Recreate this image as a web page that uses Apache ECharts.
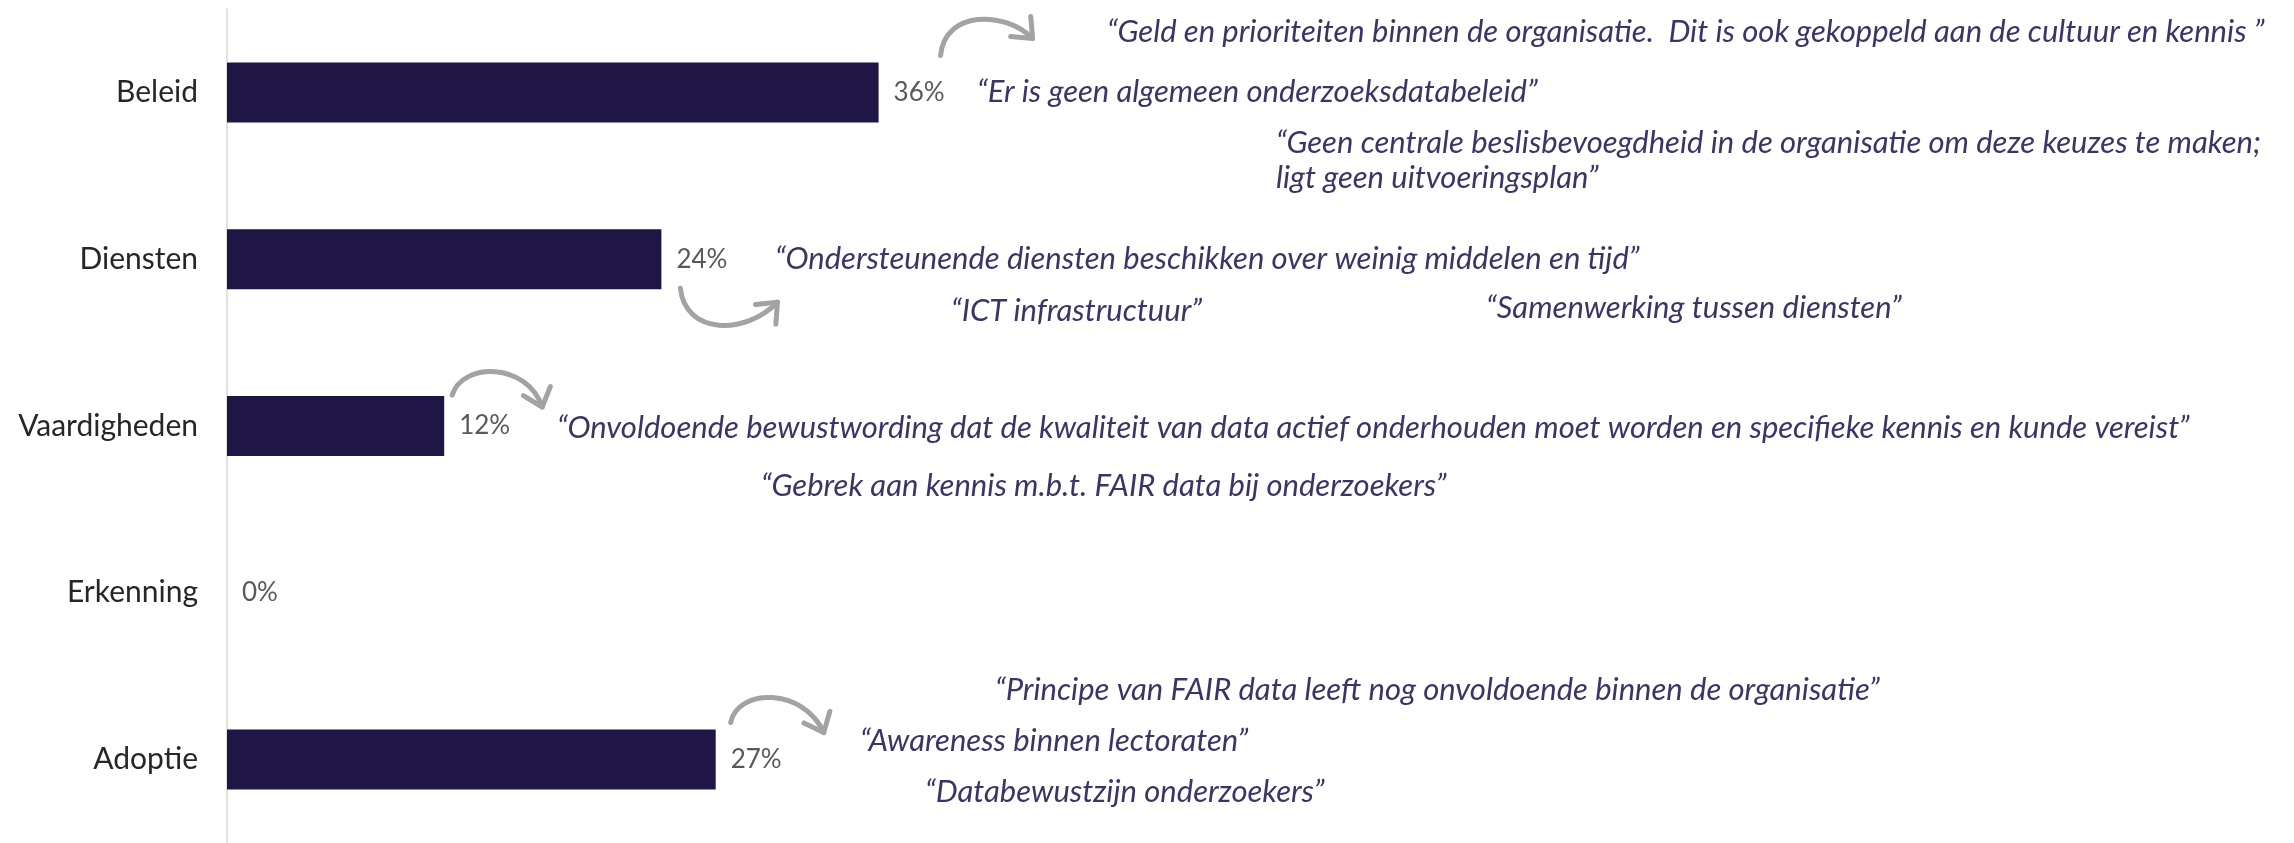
<!DOCTYPE html>
<html>
<head>
<meta charset="utf-8">
<script src="https://cdn.jsdelivr.net/npm/echarts@6/dist/echarts.min.js"></script>
<style>
  html, body { margin: 0; padding: 0; background: #fff; }
  #chart { width: 2294px; height: 843px; }
</style>
</head>
<body>
<div id="chart"></div>
<script>
const categories = ["Beleid", "Diensten", "Vaardigheden", "Erkenning", "Adoptie"];
const values = [36, 24, 12, 0, 27];
const quotes = [
  [
    "“Geld en prioriteiten binnen de organisatie.  Dit is ook gekoppeld aan de cultuur en kennis ”",
    "“Er is geen algemeen onderzoeksdatabeleid”",
    "“Geen centrale beslisbevoegdheid in de organisatie om deze keuzes te maken;\nligt geen uitvoeringsplan”",
  ],
  [
    "“Ondersteunende diensten beschikken over weinig middelen en tijd”",
    "“ICT infrastructuur”",
    "“Samenwerking tussen diensten”",
  ],
  [
    "“Onvoldoende bewustwording dat de kwaliteit van data actief onderhouden moet worden en specifieke kennis en kunde vereist”",
    "“Gebrek aan kennis m.b.t. FAIR data bij onderzoekers”",
  ],
  [],
  [
    "“Principe van FAIR data leeft nog onvoldoende binnen de organisatie”",
    "“Awareness binnen lectoraten”",
    "“Databewustzijn onderzoekers”",
  ],
];

// layout only: arrow control points relative to the bar end (px)
const ARROWS = [
  [[62, -37], [66, -82], [126, -82], [154, -54]],
  [[19, 29], [24, 76], [84, 76], [116, 43]],
  [[8, -31], [18, -64], [83, -64], [98, -19]],
  null,
  [[15, -37], [22, -72], [88, -72], [108, -27]],
];

// layout only: quote position [x from axis, dy from bar centre] (px)
const QUOTE_POS = [
  [[880, -60], [750, 0], [1049, 68]],
  [[548, 0], [724, 52], [1259, 49]],
  [[330, 2], [534, 60]],
  [],
  [[768, -70], [633, -19], [698, 32]],
];

const FONT = "Lato, 'Open Sans', sans-serif";
const QUOTE_COLOR = "#3b3566";
const ARROW_COLOR = "#a3a3a3";

function renderNotes(params, api) {
  const i = params.dataIndex;
  const end = api.coord([api.value(0), api.value(1)]);
  const base = api.coord([0, api.value(1)]);
  const children = [];

  const a = ARROWS[i];
  if (a) {
    const p = a.map(([dx, dy]) => [end[0] + dx, end[1] + dy]);
    children.push({
      type: "bezierCurve",
      shape: {
        x1: p[0][0], y1: p[0][1],
        cpx1: p[1][0], cpy1: p[1][1],
        cpx2: p[2][0], cpy2: p[2][1],
        x2: p[3][0], y2: p[3][1],
      },
      style: { stroke: ARROW_COLOR, lineWidth: 5, fill: null, lineCap: "round" },
    });
    const ang = Math.atan2(p[3][1] - p[2][1], p[3][0] - p[2][0]) + Math.PI;
    const len = 22;
    const h1 = [p[3][0] + len * Math.cos(ang - 0.7), p[3][1] + len * Math.sin(ang - 0.7)];
    const h2 = [p[3][0] + len * Math.cos(ang + 0.7), p[3][1] + len * Math.sin(ang + 0.7)];
    children.push({
      type: "polyline",
      shape: { points: [h1, p[3], h2] },
      style: { stroke: ARROW_COLOR, lineWidth: 5, fill: null, lineCap: "round", lineJoin: "round" },
    });
  }

  quotes[i].forEach((q, k) => {
    const [dx, dy] = QUOTE_POS[i][k];
    children.push({
      type: "text",
      style: {
        text: q,
        x: base[0] + dx,
        y: base[1] + dy,
        fill: QUOTE_COLOR,
        font: "italic 31px " + FONT,
        lineHeight: 35,
        align: "left",
        verticalAlign: "middle",
      },
    });
  });

  return { type: "group", children };
}

const chart = echarts.init(document.getElementById("chart"), null, { renderer: "canvas" });

chart.setOption({
  animation: false,
  grid: { left: 227, right: 257, top: 9, bottom: 0, containLabel: false },
  xAxis: {
    type: "value",
    min: 0,
    max: 100,
    show: false,
  },
  yAxis: {
    type: "category",
    data: categories,
    inverse: true,
    axisLine: { show: true, lineStyle: { color: "#d9d9d9", width: 1.5 } },
    axisTick: { show: false },
    axisLabel: { color: "#262626", fontSize: 30, fontFamily: FONT, margin: 29 },
  },
  series: [
    {
      type: "bar",
      data: values,
      barWidth: 60,
      itemStyle: { color: "#1f1646" },
      label: {
        show: true,
        position: "right",
        distance: 15,
        formatter: "{c}%",
        color: "#595959",
        fontSize: 26,
        fontFamily: FONT,
      },
    },
    {
      type: "custom",
      silent: true,
      clip: false,
      z: 5,
      data: values.map((v, i) => [v, i]),
      encode: { x: 0, y: 1 },
      renderItem: renderNotes,
    },
  ],
});
</script>
</body>
</html>
